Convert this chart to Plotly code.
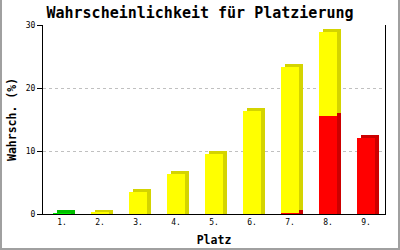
import plotly.graph_objects as go

places = ["1.", "2.", "3.", "4.", "5.", "6.", "7.", "8.", "9."]
green = [0.1, 0, 0, 0, 0, 0, 0, 0, 0]
red = [0, 0, 0, 0, 0, 0, 0.2, 15.5, 12.0]
yellow = [0, 0.2, 3.5, 6.4, 9.6, 16.4, 23.2, 13.4, 0]
y_ticks = [0, 10, 20, 30]

series = [
    ("green", green, "#00ee00", "#00c000"),
    ("red", red, "#ff0000", "#cc0000"),
    ("yellow", yellow, "#ffff00", "#d4d400"),
]

W = 0.45          # bar width (category units)
DX = 4 / 38       # depth, horizontal (category units)
DY = 3 / 6.3      # depth, vertical (data units)
MONO = "DejaVu Sans Mono"

fig = go.Figure()

# compute stacked bases
bases = {}
cum = [0.0] * len(places)
for name, vals, _, _ in series:
    bases[name] = list(cum)
    cum = [c + v for c, v in zip(cum, vals)]

# depth (side + top faces)
for name, vals, front, dark in series:
    xs, ys, bs = [], [], []
    for i, v in enumerate(vals):
        if v <= 0:
            continue
        b = bases[name][i]
        xs.append(places[i])
        if b == 0:
            bs.append(0)
            ys.append(v + DY)
        else:
            bs.append(b + DY)
            ys.append(v)
    fig.add_trace(go.Bar(x=xs, y=ys, base=bs, width=W, offset=-W / 2 + DX,
                         marker=dict(color=dark, line=dict(width=0)),
                         hoverinfo="skip", showlegend=False))

# front faces
for name, vals, front, dark in series:
    xs, ys, bs = [], [], []
    for i, v in enumerate(vals):
        if v <= 0:
            continue
        xs.append(places[i])
        ys.append(v)
        bs.append(bases[name][i])
    fig.add_trace(go.Bar(x=xs, y=ys, base=bs, width=W, offset=-W / 2,
                         marker=dict(color=front, line=dict(width=0)),
                         name=name, showlegend=False))

# outer grey frame (left, right, bottom)
L, R, T, B = 43, 15, 25, 36
PW, PH = 400 - L - R, 250 - T - B
def px(x):
    return (x - L) / PW
def py(y):
    return (250 - B - y) / PH
frame = dict(color="#a0a0a0", width=2)
fig.add_shape(type="line", xref="paper", yref="paper", x0=px(1), x1=px(1), y0=py(0), y1=py(250), line=frame)
fig.add_shape(type="line", xref="paper", yref="paper", x0=px(399), x1=px(399), y0=py(0), y1=py(250), line=frame)
fig.add_shape(type="line", xref="paper", yref="paper", x0=px(0), x1=px(400), y0=py(249), y1=py(249), line=frame)

fig.update_layout(
    width=400, height=250,
    margin=dict(l=L, r=R, t=T, b=B, autoexpand=False),
    paper_bgcolor="white", plot_bgcolor="white",
    barmode="overlay", bargap=0,
    showlegend=False,
    title=dict(text="Wahrscheinlichkeit für Platzierung",
               font=dict(family=MONO, size=15, color="black", weight="bold"),
               x=0.5, xanchor="center", xref="container",
               y=1 - 13 / 250, yanchor="middle", yref="container"),
    xaxis=dict(type="category", categoryorder="array", categoryarray=places,
               range=[-0.5, len(places) - 0.5], automargin=False,
               showline=True, linecolor="black", linewidth=1,
               ticks="", showgrid=False,
               tickfont=dict(family=MONO, size=8, color="black"),
               title=dict(text="Platz", standoff=10,
                          font=dict(family=MONO, size=11.5, color="black", weight="bold"))),
    yaxis=dict(range=[0, 30], tickvals=y_ticks, ticktext=[str(t) for t in y_ticks],
               automargin=False,
               showline=True, mirror=True, linecolor="black", linewidth=1,
               ticks="outside", ticklen=5, tickcolor="black", tickwidth=1,
               showgrid=True, gridcolor="#c0c0c0", griddash="3px,3px", gridwidth=1,
               zeroline=False,
               tickfont=dict(family=MONO, size=8, color="black"),
               title=dict(text="Wahrsch. (%)", standoff=6,
                          font=dict(family=MONO, size=11.5, color="black", weight="bold"))),
)

fig.write_html("out.html")
